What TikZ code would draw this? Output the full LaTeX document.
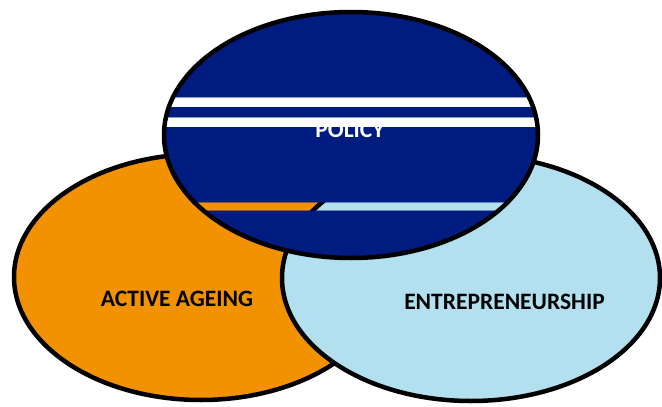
\documentclass[tikz,border=0pt]{standalone}
\usepackage{fontspec}
\setmainfont{Carlito}
\definecolor{ageorange}{HTML}{F39200}
\definecolor{entblue}{HTML}{B2E0EF}
\definecolor{policynavy}{HTML}{001C80}
\begin{document}
\begin{tikzpicture}[x=1pt,y=-1pt,
  oval/.style={x radius=187pt, y radius=123pt},
  wideoval/.style={x radius=189pt, y radius=123pt},
  ring/.style={draw=black, line width=4.5pt},
  lbl/.style={font=\fontsize{23.5}{28}\selectfont\bfseries, anchor=base, inner sep=0pt},
  stripeedge/.style={draw=policynavy, draw opacity=0.45, line width=0.8pt}]
\path[use as bounding box] (0,0) rectangle (662,407);
\clip (0,0) rectangle (662,407);

% centres of the three ovals
\coordinate (ageC) at (201,277);
\coordinate (entC) at (471,278);
\coordinate (polC) at (351,135);

% active ageing (back)
\fill[ageorange] (ageC) ellipse[oval];
\draw[ring] (ageC) ellipse[oval];

% entrepreneurship (middle)
\fill[entblue] (entC) ellipse[wideoval];
\draw[ring] (entC) ellipse[wideoval];

% policy (front) with its bands
\fill[policynavy] (polC) ellipse[oval];
\begin{scope}
  \clip (polC) ellipse[oval];
  \fill[white] (0,97) rectangle (662,107);
  \fill[white] (0,117) rectangle (662,127);
  % see-through band showing the ovals behind
  \begin{scope}
    \clip (0,202) rectangle (662,210);
    \fill[ageorange] (ageC) ellipse[oval];
    \draw[ring] (ageC) ellipse[oval];
    \fill[entblue] (entC) ellipse[wideoval];
    \draw[ring] (entC) ellipse[wideoval];
  \end{scope}
  \draw[stripeedge] (0,97) -- (662,97) (0,107) -- (662,107);
  \draw[stripeedge] (0,117) -- (662,117) (0,127) -- (662,127);
  \draw[stripeedge] (0,202) -- (662,202) (0,210) -- (662,210);
\end{scope}
\draw[ring] (polC) ellipse[oval];

% labels
\node[lbl, text=black] (ageLabel) at (177,306.7) {ACTIVE AGEING};
\node[lbl, text=black] (entLabel) at (504.5,309.3) {ENTREPRENEURSHIP};
\node[lbl, text=white] (polLabel) at (350,137.5) {POLICY};
\end{tikzpicture}
\end{document}
